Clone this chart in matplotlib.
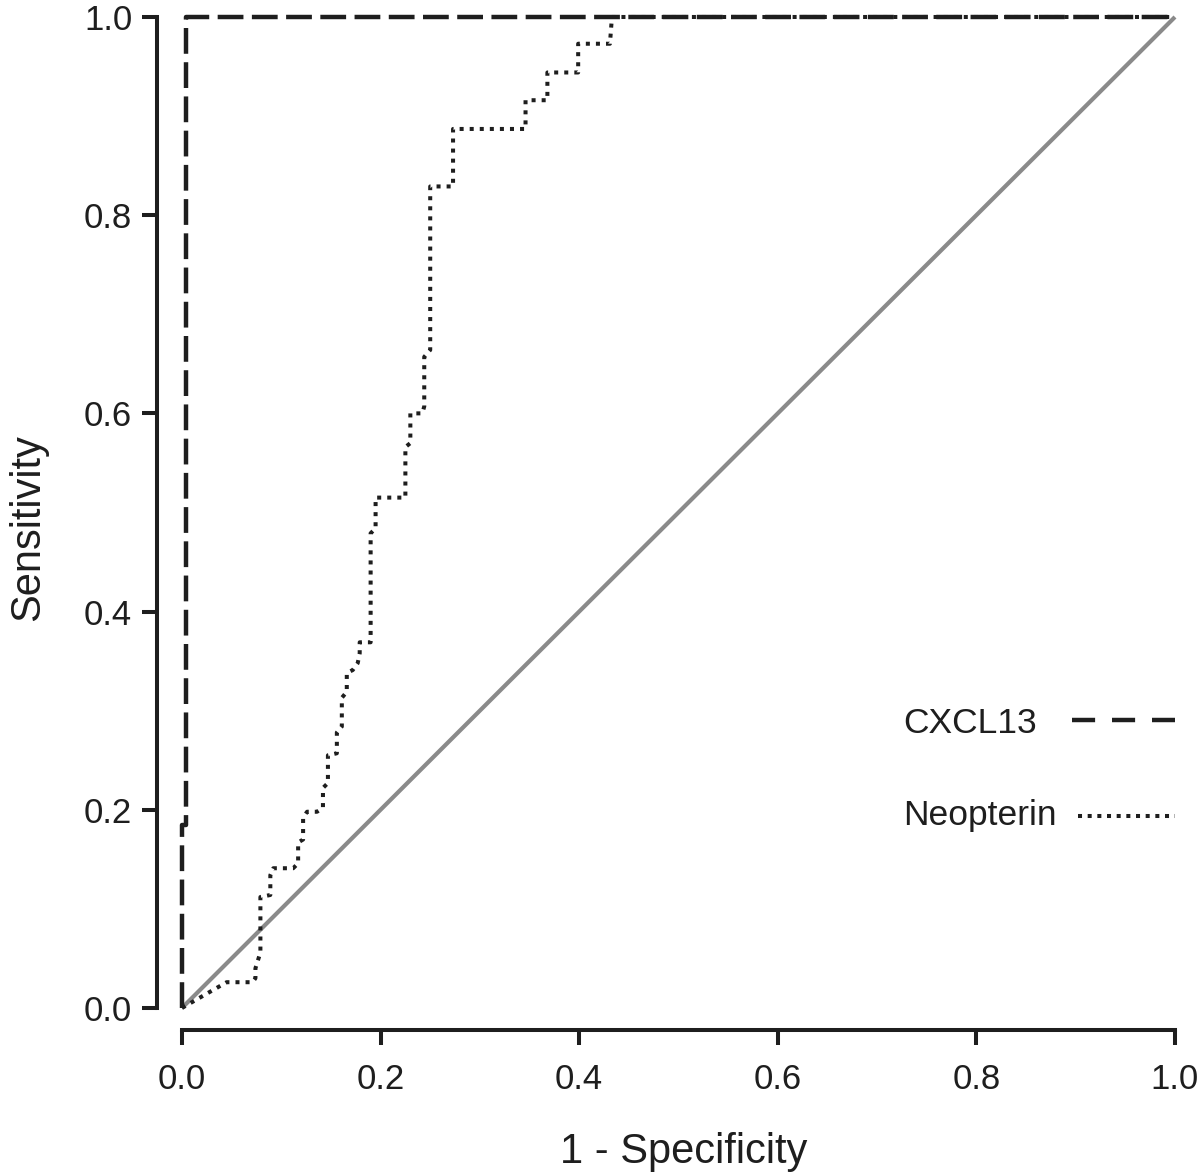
import matplotlib
matplotlib.use("Agg")
import matplotlib.pyplot as plt

plt.rcParams['font.family'] = ['Liberation Sans', 'DejaVu Sans']

# ROC data
cxcl13_fpr = [0.0, 0.0, 0.004, 0.004, 1.0]
cxcl13_tpr = [0.0, 0.185, 0.185, 1.0, 1.0]

neo_fpr = [0.000, 0.045, 0.071, 0.074, 0.074, 0.079, 0.079, 0.089, 0.089, 0.092,
           0.112, 0.117, 0.117, 0.122, 0.122, 0.126, 0.136, 0.142, 0.142, 0.147,
           0.147, 0.156, 0.156, 0.161, 0.161, 0.166, 0.166, 0.172, 0.177, 0.179,
           0.179, 0.190, 0.190, 0.195, 0.195, 0.225, 0.225, 0.230, 0.230, 0.242,
           0.244, 0.244, 0.250, 0.250, 0.273, 0.273, 0.346, 0.346, 0.368, 0.368,
           0.399, 0.399, 0.431, 0.433, 1.000]
neo_tpr = [0.000, 0.026, 0.026, 0.030, 0.040, 0.056, 0.112, 0.114, 0.134, 0.141,
           0.141, 0.146, 0.167, 0.170, 0.192, 0.198, 0.198, 0.202, 0.222, 0.227,
           0.255, 0.257, 0.278, 0.284, 0.313, 0.319, 0.338, 0.341, 0.348, 0.358,
           0.369, 0.369, 0.479, 0.484, 0.515, 0.515, 0.566, 0.570, 0.600, 0.600,
           0.607, 0.657, 0.664, 0.829, 0.829, 0.887, 0.887, 0.916, 0.916, 0.944,
           0.944, 0.973, 0.973, 1.000, 1.000]

ref_x = [0.0, 1.0]
ref_y = [0.0, 1.0]

xticks = [0.0, 0.2, 0.4, 0.6, 0.8, 1.0]
yticks = [0.0, 0.2, 0.4, 0.6, 0.8, 1.0]
xlabel = "1 - Specificity"
ylabel = "Sensitivity"
labels = ["CXCL13", "Neopterin"]

# legend layout (data units): text left x, text baselines, key start x, key y
leg_text_x = 0.726
leg_text_y = [0.2775, 0.1847]
leg_key_x0 = [0.896, 0.902]
leg_key_y = [0.2906, 0.1937]

fig = plt.figure(figsize=(12, 11.74), dpi=100)
ax = fig.add_axes([0.1268, 0.1161, 0.8689, 0.8821])
ax.set_xlim(-0.03, 1.02)
ax.set_ylim(-0.03, 1.015)

dark = '#1e1e1e'
cx_style = dict(color=dark, lw=3.2, dash_capstyle='butt')
neo_style = dict(color=dark, lw=2.9, dash_capstyle='butt')

ax.plot(ref_x, ref_y, color='#8a8a8a', lw=3.0, solid_capstyle='butt', zorder=1)
ax.plot(cxcl13_fpr, cxcl13_tpr, linestyle=(0, (5.8, 1.9)), zorder=3, **cx_style)
ax.plot(neo_fpr, neo_tpr, linestyle=(0, (1.0, 1.5)), zorder=2, **neo_style)

# legend
ax.plot([leg_key_x0[0], 1.0], [leg_key_y[0]] * 2, linestyle=(0, (5.2, 3.8)), **cx_style)
ax.plot([leg_key_x0[1], 1.0], [leg_key_y[1]] * 2, linestyle=(0, (1.0, 1.4)), **neo_style)
for lab, yb in zip(labels, leg_text_y):
    ax.text(leg_text_x, yb, lab, fontsize=25.5, color=dark, ha='left', va='baseline')

for s in ['top', 'right']:
    ax.spines[s].set_visible(False)
ax.spines['left'].set_position(('data', -0.025))
ax.spines['bottom'].set_position(('data', -0.022))
ax.spines['left'].set_bounds(0, 1)
ax.spines['bottom'].set_bounds(0, 1)
for s in ['left', 'bottom']:
    ax.spines[s].set_linewidth(2.9)
    ax.spines[s].set_color(dark)
    ax.spines[s].set_capstyle('projecting')

ax.set_xticks(xticks)
ax.set_yticks(yticks)
ax.set_xticklabels([f"{v:.1f}" for v in xticks])
ax.set_yticklabels([f"{v:.1f}" for v in yticks])
ax.tick_params(axis='both', direction='out', length=11, width=2.9, color=dark,
               labelsize=25, labelcolor=dark)
ax.tick_params(axis='x', pad=13)
ax.tick_params(axis='y', pad=7)

ax.set_xlabel(xlabel, fontsize=30, color=dark)
ax.set_ylabel(ylabel, fontsize=30, color=dark)
ax.xaxis.set_label_coords(0.51, -0.091)
ax.yaxis.set_label_coords(-0.10, 0.493)

fig.savefig('out.png', dpi=100)
